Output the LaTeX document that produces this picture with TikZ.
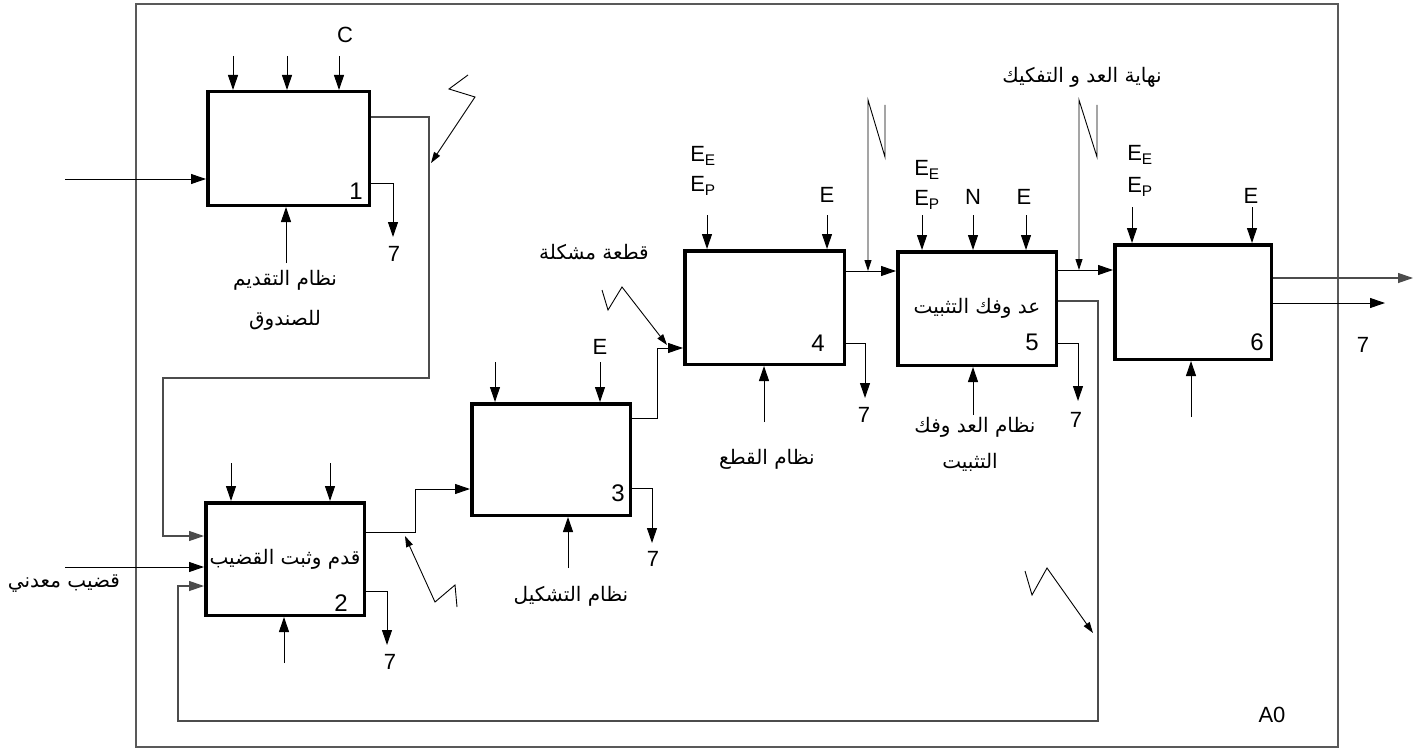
\documentclass[tikz,border=0pt]{standalone}
\usepackage{fontspec}
\setmainfont{Liberation Sans}
\newfontfamily\arabicfont[Script=Arabic]{DejaVu Sans}
\TeXXeTstate=1
\usetikzlibrary{arrows.meta,calc}
\begin{document}
\begin{tikzpicture}[x=1pt,y=-1pt,
  procbox/.style={draw, line width=3.5pt, inner sep=0pt, align=center, font=\fontsize{20}{23}\selectfont\arabicfont},
  arr/.style={line width=1pt, -{Triangle[length=15pt,width=10pt]}},
  garr/.style={draw=black!70, line width=1.2pt, -{Triangle[length=15pt,width=10pt]}},
  larr/.style={line width=0.9pt, -{Triangle[length=11pt,width=7pt]}},
  frameline/.style={draw=black!65, line width=1.3pt},
  lbl/.style={font=\fontsize{22}{24}\selectfont, inner sep=0pt},
  num/.style={font=\fontsize{24}{26}\selectfont, inner sep=0pt},
  albl/.style={font=\fontsize{20}{23}\selectfont\arabicfont, inner sep=0pt}
]
\useasboundingbox (0,0) rectangle (1424,749);
\fill[white] (0,0) rectangle (1424,749);
\draw[frameline] (136,4) rectangle (1338,747);

% boxes
\node[procbox, minimum width=161.5pt, minimum height=113.5pt] (b1) at (288.5,148.5) {};
\node[procbox, minimum width=158.5pt, minimum height=112.5pt] (b2) at (285,559) {\beginR قدم وثبت القضيب\endR};
\node[procbox, minimum width=158.5pt, minimum height=111.5pt] (b3) at (551,459.5) {};
\node[procbox, minimum width=159.5pt, minimum height=113.5pt] (b4) at (764.5,307.5) {};
\node[procbox, minimum width=158.5pt, minimum height=113.5pt] (b5) at (977,308.5) {\beginR عد وفك التثبيت\endR};
\node[procbox, minimum width=156.5pt, minimum height=114.5pt] (b6) at (1193,302) {};

% box numbers
\node[num] (n1) at (356,191) {1};
\node[num] (n2) at (341,603) {2};
\node[num] (n3) at (618,493) {3};
\node[num] (n4) at (818,343) {4};
\node[num] (n5) at (1032,342) {5};
\node[num] (n6) at (1257,342) {6};

% free-end coordinates
\coordinate (in1) at (65,179);
\coordinate (in2) at (65,567);
\foreach \n/\x/\y in {t1a/233/56, t1b/287/56, t1c/339/56, t2a/231/463, t2b/330/463,
  t3a/495/362, t3b/600/362, t4a/707/215, t4b/827/215, t5a/922/215, t5b/973/215, t5c/1026/215,
  t6a/1132/207, t6b/1252/207, m1/286/263, m2/284/663, m3/568/568, m4/764/422, m5/973/415, m6/1191/417,
  o1/1413/278, o2/1385/303}
  {\coordinate (\n) at (\x,\y);}

% inputs
\draw[arr] (in1) -- (in1 -| b1.west);
\draw[arr] (in2) -- (in2 -| b2.west);
% controls
\foreach \c/\b in {t1a/b1, t1b/b1, t1c/b1, t2a/b2, t2b/b2, t3a/b3, t3b/b3, t4a/b4, t4b/b4, t5a/b5, t5b/b5, t5c/b5, t6a/b6, t6b/b6}
  {\draw[arr] (\c) -- (\c |- \b.north);}
% mechanisms
\foreach \c/\b in {m1/b1, m2/b2, m3/b3, m4/b4, m5/b5, m6/b6}
  {\draw[arr] (\c) -- (\c |- \b.south);}

% outputs to 7
\draw[arr] (b1.east |- 0,183) -- (393,183) -- (393,237);
\draw[arr] (b2.east |- 0,591) -- (387,591) -- (387,645);
\draw[arr] (b3.east |- 0,488) -- (652,488) -- (652,543);
\draw[arr] (b4.east |- 0,343) -- (865,343) -- (865,398);
\draw[arr] (b5.east |- 0,343) -- (1078,343) -- (1078,401);

% flow
\draw[garr] (b1.east |- 0,117) -- (429,117) -- (429,378) -- (163,378) -- (163,536) -- (b2.west |- 0,536);
\draw[arr] (b2.east |- 0,532) -- (415,532) -- (415,489) -- (b3.west |- 0,489);
\draw[arr] (b3.east |- 0,418) -- (657,418) -- (657,348) -- (b4.west |- 0,348);
\draw[arr] (b4.east |- 0,271) -- (b5.west |- 0,271);
\draw[arr] (b5.east |- 0,270) -- (b6.west |- 0,270);
\draw[garr] (b5.east |- 0,301) -- (1098,301) -- (1098,721) -- (178,721) -- (178,586) -- (b2.west |- 0,586);
\draw[garr] (b6.east |- 0,278) -- (o1);
\draw[arr] (b6.east |- 0,303) -- (o2);

% lightning arrows
\draw[larr] (468,75) -- (449,89) -- (475,97) -- (431,163);
\draw[larr] (457,607) -- (455,585) -- (435,602) -- (405,536);
\draw[larr] (602,290) -- (608,310) -- (622,287) -- (667,345);
\draw[larr] (885,105) -- (885,157) -- (868,100) -- (868,271);
\draw[larr] (1097,105) -- (1097,157) -- (1079,100) -- (1079,270);
\draw[larr] (1025,571) -- (1032,595) -- (1047,568) -- (1093,633);

% Latin labels
\node[lbl] (lC) at (345,35) {C};
\node[lbl] (lE3) at (600,347) {E};
\node[lbl] (lEE4) at (703,156) {E\textsubscript{E}};
\node[lbl] (lEP4) at (703,186) {E\textsubscript{P}};
\node[lbl] (lE4) at (827,195) {E};
\node[lbl] (lEE5) at (927,170) {E\textsubscript{E}};
\node[lbl] (lEP5) at (927,200) {E\textsubscript{P}};
\node[lbl] (lN5) at (973,197) {N};
\node[lbl] (lE5) at (1024,197) {E};
\node[lbl] (lEE6) at (1140,155) {E\textsubscript{E}};
\node[lbl] (lEP6) at (1140,187) {E\textsubscript{P}};
\node[lbl] (lE6) at (1251,196) {E};
\node[lbl] (s1) at (394,254) {7};
\node[lbl] (s2) at (390,662) {7};
\node[lbl] (s3) at (653,559) {7};
\node[lbl] (s4) at (864,415) {7};
\node[lbl] (s5) at (1076,420) {7};
\node[lbl] (s6) at (1363,345) {7};
\node[lbl] (a0) at (1272,715) {A0};

% Arabic labels
\node[albl] (ar1a) at (285,280) {\beginR نظام التقديم\endR};
\node[albl] (ar1b) at (285,320) {\beginR للصندوق\endR};
\node[albl] (ar2) at (64,584) {\beginR قضيب معدني\endR};
\node[albl] (ar3) at (571,596) {\beginR نظام التشكيل\endR};
\node[albl] (ar4) at (594,252) {\beginR قطعة مشكلة\endR};
\node[albl] (ar5) at (767,459) {\beginR نظام القطع\endR};
\node[albl] (ar6a) at (975,427) {\beginR نظام العد وفك\endR};
\node[albl] (ar6b) at (970,462) {\beginR التثبيت\endR};
\node[albl] (ar7) at (1082,77) {\beginR نهاية العد و التفكيك\endR};
\end{tikzpicture}
\end{document}
